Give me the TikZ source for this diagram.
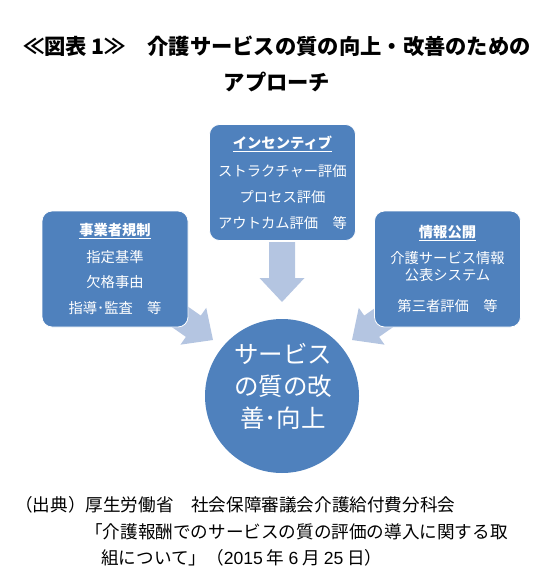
\documentclass[tikz,border=0pt]{standalone}
\usepackage{fontspec}
\setmainfont{Noto Sans CJK JP}
\newfontfamily\latinfnt{Liberation Sans}
\definecolor{boxblue}{HTML}{4F81BD}
\definecolor{arrowblue}{HTML}{B4C5E1}
% block arrow: tip, direction, shaft length
\newcommand{\blockarrow}[3]{%
  \fill[arrowblue, shift={#1}, rotate=#2] (0,0) -- (-24,22.5) -- (-24,13) -- (-#3,13)
    -- (-#3,-13) -- (-24,-13) -- (-24,-22.5) -- cycle;}
\begin{document}
\begin{tikzpicture}[x=1pt, y=-1pt,
    every node/.style={inner sep=0pt},
    title/.style={font=\fontsize{21.3}{21}\selectfont\bfseries},
    panel/.style={draw=white, line width=0.8pt, fill=boxblue, rounded corners=10pt,
      text=white, align=center, minimum width=146pt, minimum height=116pt,
      font=\fontsize{14.3}{17}\selectfont},
    hub/.style={circle, fill=boxblue, minimum size=154pt},
    hubtext/.style={text=white, align=center, font=\fontsize{24.5}{32}\selectfont},
    source/.style={anchor=west, font=\fontsize{17.6}{17}\selectfont}]
  \useasboundingbox (0,0) rectangle (551,588);
  % title
  \node[title] (title1) at (277,46) {≪図表 1≫　介護サービスの質の向上・改善のための};
  \node[title] (title2) at (277,82) {アプローチ};
  % arrows (behind the panels)
  \blockarrow{(282,302)}{-90}{60}
  \blockarrow{(213,340)}{-35}{70}
  \blockarrow{(352,340)}{-145}{70}
  % panels
  \node[panel] (incentive) at (282.5,182.5) {\underline{\textbf{インセンティブ}}\\[11pt]
    ストラクチャー評価\\[9pt] プロセス評価\\[9pt] アウトカム評価　等};
  \node[panel] (regulation) at (115,269) {\underline{\textbf{事業者規制}}\\[10pt]
    指定基準\\[8pt] 欠格事由\\[9pt] 指導･監査　等};
  \node[panel] (disclosure) at (447.5,269) {\underline{\textbf{情報公開}}\\[9pt]
    介護サービス情報\\ 公表システム\\[14pt] 第三者評価　等};
  \node[hub] (quality) at (282,396) {};
  \node[hubtext] (qualitytext) at (283,386) {サービス\\の質の改\\善･向上};
  % source
  \node[source] (source1) at (15,505) {（出典）厚生労働省　社会保障審議会介護給付費分科会};
  \node[source] (source2) at (85,532) {「介護報酬でのサービスの質の評価の導入に関する取};
  \node[source] (source3) at (101,558) {組について」（{\latinfnt 2015} 年 {\latinfnt 6} 月 {\latinfnt 25} 日）};
\end{tikzpicture}
\end{document}
